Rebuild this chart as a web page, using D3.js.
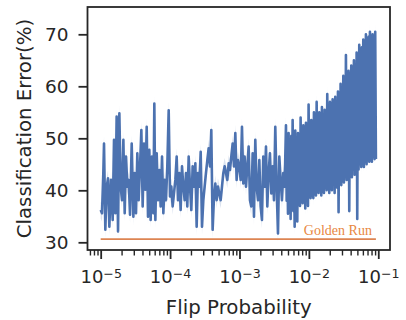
<!DOCTYPE html>
<html>
<head>
<meta charset="utf-8">
<script src="https://cdn.jsdelivr.net/npm/d3@7"></script>
<style>
  body { margin: 0; background: #fff; }
  svg { display: block; }
  text { font-family: "DejaVu Sans", sans-serif; fill: #262626; }
</style>
</head>
<body>
<svg id="chart" width="406" height="320"></svg>
<script>
// log10 of the flip probability, sparse part (1e-5 .. ~4.5e-3)
const lowRateExp = [
  -5.000, -4.981, -4.962, -4.952, -4.933, -4.914, -4.894, -4.875, -4.851, -4.827,
  -4.808, -4.789, -4.770, -4.750, -4.731, -4.712, -4.693, -4.673, -4.654, -4.635,
  -4.616, -4.597, -4.577, -4.553, -4.529, -4.510, -4.491, -4.472, -4.453, -4.433,
  -4.414, -4.395, -4.376, -4.357, -4.337, -4.318, -4.299, -4.280, -4.261, -4.241,
  -4.227, -4.212, -4.193, -4.174, -4.155, -4.136, -4.116, -4.097, -4.078, -4.059,
  -4.040, -4.020, -4.001, -3.982, -3.963, -3.944, -3.924, -3.905, -3.886, -3.867,
  -3.848, -3.828, -3.809, -3.790, -3.771, -3.752, -3.732, -3.713, -3.694, -3.675,
  -3.655, -3.636, -3.617, -3.598, -3.579, -3.559, -3.540, -3.521, -3.502, -3.483,
  -3.463, -3.444, -3.425, -3.406, -3.387, -3.367, -3.348, -3.329, -3.310, -3.291,
  -3.271, -3.252, -3.233, -3.214, -3.194, -3.175, -3.156, -3.137, -3.118, -3.098,
  -3.079, -3.060, -3.041, -3.022, -3.002, -2.983, -2.964, -2.945, -2.926, -2.906,
  -2.887, -2.868, -2.849, -2.830, -2.810, -2.791, -2.772, -2.753, -2.733, -2.714,
  -2.695, -2.676, -2.657, -2.637, -2.618, -2.599, -2.580, -2.561, -2.541, -2.522,
  -2.503, -2.484, -2.465, -2.445, -2.426, -2.407, -2.388, -2.369, -2.349
];
const lowRateError = [
  36.2, 35.6, 43.3, 49.0, 32.4, 40.7, 42.3, 33.0, 42.0, 34.3,
  49.7, 35.6, 54.2, 32.1, 54.8, 40.7, 38.1, 49.7, 35.6, 46.5,
  40.7, 42.0, 35.3, 49.0, 34.9, 43.3, 35.6, 47.1, 38.1, 44.6,
  51.6, 36.9, 49.0, 40.1, 52.2, 34.9, 47.8, 34.3, 46.5, 35.6,
  56.7, 34.3, 47.1, 38.1, 43.9, 36.9, 46.5, 35.6, 42.0, 38.1,
  44.6, 55.4, 38.8, 40.7, 36.9, 39.4, 42.0, 46.5, 38.1, 43.3,
  36.2, 44.6, 40.7, 38.1, 43.3, 36.9, 46.5, 40.7, 36.2, 44.6,
  40.7, 45.2, 33.0, 43.3, 40.7, 47.4, 33.0, 38.1, 40.7, 43.3,
  45.8, 48.1, 44.6, 51.6, 32.4, 38.8, 41.3, 38.1, 40.7, 39.4,
  38.1, 40.7, 43.3, 44.6, 43.3, 42.0, 45.2, 43.9, 46.5, 49.0,
  44.6, 51.0, 42.0, 45.8, 44.6, 42.0, 52.2, 41.3, 46.5, 40.7,
  44.6, 48.4, 38.1, 36.9, 47.1, 34.9, 49.7, 40.7, 38.1, 45.8,
  36.9, 34.3, 46.5, 40.7, 48.4, 36.9, 43.3, 47.1, 39.4, 44.6,
  38.1, 52.2, 40.7, 31.7, 46.5, 42.0, 38.1, 43.3, 40.7
];

// dense part (~4.7e-3 .. ~0.09), values swing hard between runs
const highRateExp = [
  -2.330, -2.320, -2.311, -2.301, -2.292, -2.282, -2.272, -2.263, -2.253, -2.244,
  -2.234, -2.224, -2.215, -2.205, -2.196, -2.186, -2.176, -2.167, -2.157, -2.148,
  -2.138, -2.128, -2.119, -2.109, -2.100, -2.090, -2.080, -2.071, -2.061, -2.052,
  -2.042, -2.032, -2.023, -2.013, -2.004, -1.994, -1.984, -1.975, -1.965, -1.956,
  -1.946, -1.936, -1.927, -1.917, -1.908, -1.898, -1.888, -1.879, -1.869, -1.860,
  -1.850, -1.840, -1.831, -1.821, -1.812, -1.802, -1.792, -1.783, -1.773, -1.764,
  -1.754, -1.744, -1.735, -1.725, -1.716, -1.706, -1.696, -1.687, -1.677, -1.668,
  -1.658, -1.648, -1.639, -1.629, -1.620, -1.610, -1.600, -1.591, -1.581, -1.572,
  -1.562, -1.552, -1.543, -1.533, -1.524, -1.514, -1.504, -1.495, -1.485, -1.476,
  -1.466, -1.456, -1.447, -1.437, -1.428, -1.418, -1.408, -1.399, -1.389, -1.380,
  -1.370, -1.360, -1.351, -1.341, -1.332, -1.322, -1.312, -1.303, -1.293, -1.284,
  -1.274, -1.264, -1.255, -1.245, -1.236, -1.226, -1.216, -1.207, -1.197, -1.188,
  -1.178, -1.168, -1.159, -1.149, -1.140, -1.130, -1.120, -1.111, -1.101, -1.092,
  -1.082, -1.072, -1.063, -1.053, -1.044, -1.034
];
const highRateError = [
  52.5, 38.0, 49.0, 35.5, 51.0, 40.0, 48.5, 34.5, 50.5, 37.5,
  53.5, 36.0, 49.0, 33.0, 51.5, 39.0, 49.5, 34.0, 51.0, 38.5,
  49.5, 37.0, 54.0, 40.0, 51.0, 37.5, 52.5, 39.5, 50.5, 36.5,
  53.0, 38.0, 52.0, 37.0, 56.5, 40.5, 51.5, 38.5, 53.5, 39.0,
  52.5, 38.5, 55.0, 40.0, 53.0, 39.0, 57.0, 41.0, 53.0, 39.5,
  55.0, 40.0, 53.5, 39.0, 56.0, 41.5, 53.5, 39.5, 55.5, 40.5,
  54.5, 40.0, 58.5, 42.0, 55.5, 39.5, 57.0, 41.0, 55.0, 40.0,
  57.5, 42.5, 56.0, 39.5, 58.0, 41.0, 56.5, 40.5, 59.0, 35.8,
  57.5, 42.0, 60.5, 41.0, 59.0, 43.0, 62.0, 41.5, 60.0, 42.5,
  66.0, 42.0, 61.5, 43.5, 63.0, 36.0, 62.5, 43.0, 64.0, 42.5,
  63.0, 44.0, 65.0, 43.0, 64.0, 44.5, 66.5, 34.5, 65.5, 44.0,
  68.0, 45.0, 66.5, 44.5, 67.5, 45.5, 69.0, 44.5, 67.5, 45.5,
  70.0, 45.0, 68.5, 46.0, 69.5, 45.5, 70.5, 46.0, 69.0, 45.5,
  70.0, 46.5, 69.5, 46.0, 70.5, 46.0
];

const goldenRunError = 30.6;
const ciHalfWidth = 1.6;
const yTickValues = [30, 40, 50, 60, 70];
const xTickExps = [-5, -4, -3, -2, -1];

const frame = { left: 87.5, right: 390, top: 7, bottom: 250 };

const allError = lowRateError.concat(highRateError);
const points = lowRateExp.concat(highRateExp).map((e, i) => ({
  p: Math.pow(10, e),
  v: allError[i]
}));

const svg = d3.select("#chart");

const x = d3.scaleLog()
  .domain([Math.pow(10, -5.19), Math.pow(10, -0.831)])
  .range([frame.left, frame.right]);

const y = d3.scaleLinear()
  .domain([28.52, 75.25])
  .range([frame.bottom, frame.top]);

const blue = "#4c72b0";
const orange = "#dd8452";
const ink = "#262626";

// confidence band, then the mean line on top
svg.append("path")
  .datum(points)
  .attr("fill", blue)
  .attr("fill-opacity", 0.2)
  .attr("d", d3.area()
    .x(d => x(d.p))
    .y0(d => y(d.v - ciHalfWidth))
    .y1(d => y(d.v + ciHalfWidth)));

svg.append("path")
  .datum(points)
  .attr("fill", "none")
  .attr("stroke", blue)
  .attr("stroke-width", 2.6)
  .attr("stroke-linejoin", "round")
  .attr("d", d3.line().x(d => x(d.p)).y(d => y(d.v)));

// golden run reference line
const pStart = points[0].p, pEnd = points[points.length - 1].p;
svg.append("line")
  .attr("x1", x(pStart)).attr("x2", x(pEnd))
  .attr("y1", y(goldenRunError)).attr("y2", y(goldenRunError))
  .attr("stroke", orange)
  .attr("stroke-width", 1.8);

svg.append("text")
  .attr("x", x(pEnd) - 4)
  .attr("y", y(goldenRunError) - 4)
  .attr("text-anchor", "end")
  .style("font-family", "'Liberation Serif', serif")
  .style("font-size", "14px")
  .style("fill", "#e8873f")
  .text("Golden Run");

// minor ticks on the log axis
const minorTicks = [];
for (let k = -6; k <= -1; k++) {
  for (let m = 2; m <= 9; m++) {
    const v = m * Math.pow(10, k);
    if (v >= x.domain()[0] && v <= x.domain()[1]) minorTicks.push(v);
  }
}

svg.append("g")
  .attr("transform", `translate(0,${frame.bottom})`)
  .call(d3.axisBottom(x).tickValues(minorTicks).tickSize(5.5).tickFormat(""))
  .call(g => g.select(".domain").remove())
  .call(g => g.selectAll("line").attr("stroke", ink).attr("stroke-width", 1.4));

const xAxis = svg.append("g")
  .attr("transform", `translate(0,${frame.bottom})`)
  .call(d3.axisBottom(x)
    .tickValues(xTickExps.map(e => Math.pow(10, e)))
    .tickSize(9)
    .tickPadding(11.5)
    .tickFormat(""));
xAxis.select(".domain").remove();
xAxis.selectAll("line").attr("stroke", ink).attr("stroke-width", 1.8);
xAxis.selectAll(".tick text")
  .attr("font-family", null)
  .style("font-size", "18px")
  .each(function(d) {
    const t = d3.select(this);
    t.append("tspan").text("10");
    t.append("tspan")
      .attr("dy", "-0.45em")
      .style("font-size", "12.6px")
      .text("\u2212" + Math.abs(Math.round(Math.log10(d))));
  });

const yAxis = svg.append("g")
  .attr("transform", `translate(${frame.left},0)`)
  .call(d3.axisLeft(y).tickValues(yTickValues).tickSize(9).tickPadding(10));
yAxis.select(".domain").remove();
yAxis.selectAll("line").attr("stroke", ink).attr("stroke-width", 1.8);
yAxis.selectAll(".tick text")
  .attr("font-family", null)
  .style("font-size", "18.5px");

// frame
svg.append("rect")
  .attr("x", frame.left).attr("y", frame.top)
  .attr("width", frame.right - frame.left)
  .attr("height", frame.bottom - frame.top)
  .attr("fill", "none")
  .attr("stroke", ink)
  .attr("stroke-width", 1.8);

// axis titles
svg.append("text")
  .attr("x", (frame.left + frame.right) / 2)
  .attr("y", 314)
  .attr("text-anchor", "middle")
  .style("font-size", "19.8px")
  .text("Flip Probability");

svg.append("text")
  .attr("transform", `translate(31,${(frame.top + frame.bottom) / 2}) rotate(-90)`)
  .attr("text-anchor", "middle")
  .style("font-size", "19.8px")
  .text("Classification Error(%)");
</script>
</body>
</html>
